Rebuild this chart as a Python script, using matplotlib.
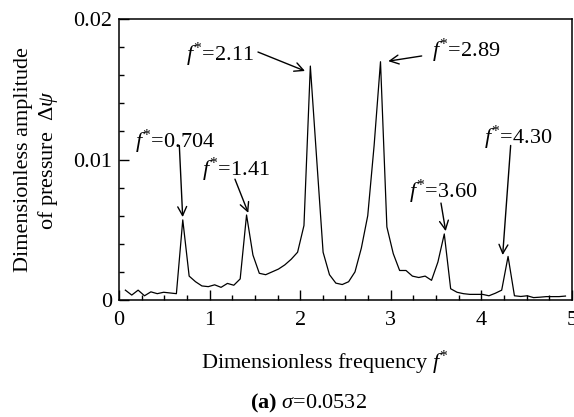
"""
    Spectrum of the dimensionless pressure amplitude, sigma = 0.0532
"""

import numpy as np
import matplotlib as mpl
import matplotlib.pyplot as plt


#########################################################
# Plotting parameters
#########################################################

mpl.rcParams["font.family"] = "Liberation Serif"
mpl.rcParams["font.size"] = 16
mpl.rcParams["mathtext.fontset"] = "custom"
mpl.rcParams["mathtext.rm"] = "Liberation Serif"
mpl.rcParams["mathtext.it"] = "Liberation Serif:italic"
mpl.rcParams["mathtext.bf"] = "Liberation Serif:bold"
mpl.rcParams["axes.linewidth"] = 1.1


#########################################################
# Data
#########################################################

# frequency resolution of the spectrum
df_res = 0.0704
harmonic = np.arange(1, 71)

amplitude = [
    0.00070, 0.00035, 0.00070, 0.00030, 0.00058, 0.00045, 0.00055, 0.00050, 0.00045, 0.00570,
    0.00170, 0.00130, 0.00100, 0.00095, 0.00108, 0.00090, 0.00118, 0.00105, 0.00150, 0.00605,
    0.00320, 0.00190, 0.00180, 0.00200, 0.00220, 0.00250, 0.00290, 0.00340, 0.00530, 0.01665,
    0.01000, 0.00340, 0.00180, 0.00120, 0.00110, 0.00130, 0.00200, 0.00370, 0.00600, 0.01100,
    0.01696, 0.00520, 0.00330, 0.00210, 0.00210, 0.00170, 0.00160, 0.00170, 0.00140, 0.00270,
    0.00470, 0.00080, 0.00055, 0.00045, 0.00040, 0.00040, 0.00040, 0.00030, 0.00048, 0.00070,
    0.00310, 0.00030, 0.00025, 0.00030, 0.00017, 0.00020, 0.00024, 0.00024, 0.00024, 0.00028,
]

freq = harmonic * df_res

# annotated peaks: label, arrow tip, text position, arrow tail
peak_labels = ["0.704", "1.41", "2.11", "2.89", "3.60", "4.30"]
peak_xy = [(0.703, 0.0059), (1.427, 0.0062), (2.053, 0.0163), (2.972, 0.0170), (3.606, 0.0049), (4.235, 0.0032)]
text_xy = [(0.177, 0.01125), (0.916, 0.00925), (0.74, 0.01744), (3.455, 0.01772), (3.20, 0.00769), (4.03, 0.01153)]
tail_xy = [(0.666, 0.0110), (1.28, 0.0086), (1.534, 0.01765), (3.341, 0.01737), (3.554, 0.0069), (4.323, 0.0110)]

xticks = [0, 1, 2, 3, 4, 5]
yticks = [0, 0.01, 0.02]
ytick_labels = ["0", "0.01", "0.02"]


#########################################################
# Figure
#########################################################

fig = plt.figure(figsize=(5.74, 4.17), dpi=100)
ax = fig.add_axes([0.2073, 0.2806, 0.7892, 0.6738])

ax.plot(freq, amplitude, color="black", linewidth=0.9)

ax.set_xlim(0, 5)
ax.set_ylim(0, 0.02)
ax.set_xticks(xticks)
ax.set_xticks(np.arange(0, 5.01, 0.25), minor=True)
ax.set_yticks(yticks)
ax.set_yticklabels(ytick_labels)
ax.set_yticks(np.arange(0, 0.0201, 0.002), minor=True)

ax.tick_params(which="both", direction="in", top=False, right=False, width=1.0)
ax.tick_params(which="major", length=7, labelsize=16)
ax.tick_params(axis="x", which="major", pad=8)
ax.tick_params(axis="y", which="major", pad=5)
ax.tick_params(which="minor", length=3.5)

for lab, pk, tx, tl in zip(peak_labels, peak_xy, text_xy, tail_xy):
    ax.text(tx[0], tx[1], "$f^{*}$=" + lab, fontsize=16, va="center", ha="left")
    ax.annotate(
        "",
        xy=pk,
        xytext=tl,
        arrowprops=dict(arrowstyle="->", color="black", lw=1.0, shrinkA=0, shrinkB=0),
    )

fig.text(
    0.064,
    0.617,
    "Dimensionless amplitude\nof pressure  $\\mathit{\\Delta\\psi}$",
    rotation=90,
    ha="center",
    va="center",
    multialignment="center",
    fontsize=16,
)
fig.text(0.566, 0.1295, "Dimensionless frequency $f^{*}$", ha="center", va="center", fontsize=16)
fig.text(0.538, 0.0336, "$\\mathbf{(a)}$ $\\sigma$=0.0532", ha="center", va="center", fontsize=16)

plt.savefig("out.png", dpi=100)
